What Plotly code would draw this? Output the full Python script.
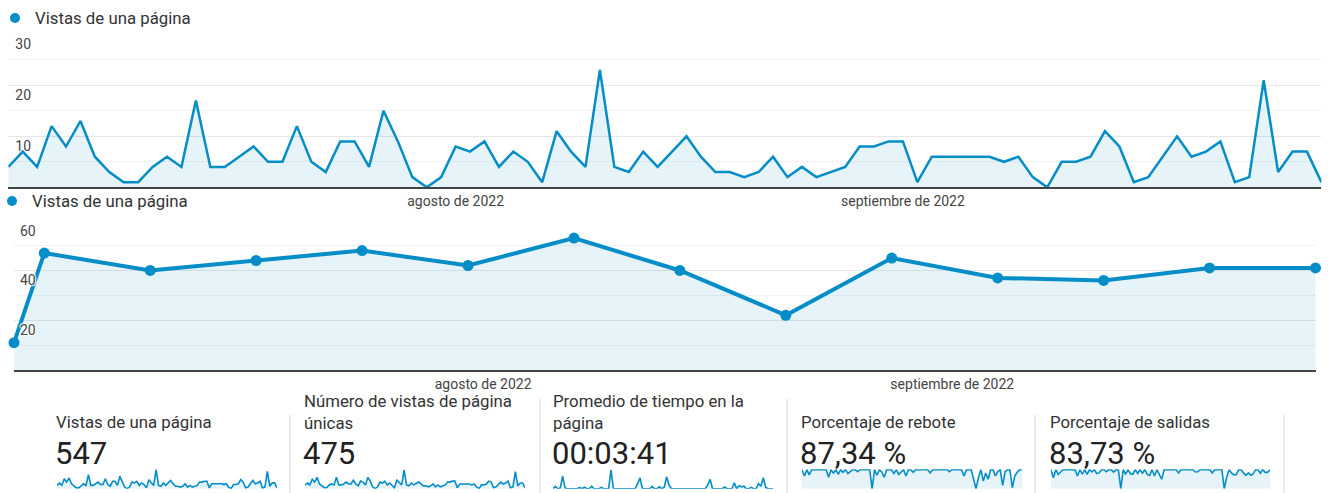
import plotly.graph_objects as go
import pandas as pd

W, H = 1330, 493

# ---------------- data ----------------
days = pd.date_range("2022-07-01", "2022-09-30", freq="D")

page_views = [4, 7, 4, 12, 8, 13, 6, 3, 1, 1, 4, 6, 4, 17, 4, 4, 6, 8, 5, 5,
              12, 5, 3, 9, 9, 4, 15, 9, 2, 0,
              2, 8, 7, 9, 4, 7, 5, 1, 11, 7, 4, 23, 4, 3, 7, 4, 7, 10, 6, 3,
              3, 2, 3, 6, 2, 4, 2, 3, 4, 8, 8, 9,
              9, 1, 6, 6, 6, 6, 6, 5, 6, 2, 0, 5, 5, 6, 11, 8, 1, 2, 6, 10,
              6, 7, 9, 1, 2, 21, 3, 7, 7, 1]

unique_views = [4, 6, 4, 10, 7, 12, 5, 3, 1, 1, 4, 5, 4, 12, 4, 4, 5, 7, 5, 5,
                9, 5, 3, 8, 7, 4, 12, 8, 2, 0,
                2, 7, 6, 8, 4, 6, 4, 1, 9, 6, 4, 20, 4, 3, 6, 4, 6, 7, 5, 3,
                3, 2, 3, 5, 2, 4, 2, 3, 4, 7, 7, 8,
                8, 1, 5, 5, 5, 5, 5, 4, 5, 2, 0, 4, 4, 5, 8, 7, 1, 2, 5, 7,
                5, 6, 8, 1, 2, 18, 3, 6, 6, 1]

avg_time_sec = [0, 190, 0, 60, 1010, 60, 0, 0, 0, 0, 0, 100, 0, 120, 0, 0, 200, 0, 0, 0,
                110, 0, 0, 0, 1500, 0, 0, 0, 0, 0,
                0, 0, 0, 0, 0, 400, 870, 0, 0, 0, 0, 190, 0, 0, 150, 0, 120, 950, 300, 0,
                0, 0, 0, 0, 0, 0, 0, 0, 0, 0, 0, 0,
                0, 0, 300, 740, 0, 0, 0, 0, 0, 136, 0, 0, 0, 465, 0, 245, 150, 200, 0, 0,
                110, 0, 0, 410, 200, 870, 100, 0, 0, 0]

bounce_rate = [100, 67, 100, 73, 100, 100, 100, 100, 100, 100, 100, 60, 100, 82, 100, 75, 100, 86, 100, 80,
               92, 100, 100, 89, 100, 100, 100, 100, 100, 0,
               100, 71, 100, 88, 60, 100, 100, 100, 80, 100, 75, 86, 100, 67, 100, 100, 86, 100, 100, 100,
               100, 100, 100, 83, 100, 100, 100, 100, 100, 100, 100, 89,
               100, 100, 100, 100, 100, 67, 100, 100, 100, 50, 0, 60, 100, 40, 82, 50, 100, 100, 67, 90,
               100, 17, 89, 100, 100, 5, 67, 86, 100, 100]

exit_rate = [100, 57, 100, 75, 88, 100, 100, 100, 100, 100, 100, 67, 100, 76, 100, 75, 100, 88, 100, 80,
             83, 100, 100, 89, 100, 100, 87, 100, 100, 0,
             100, 75, 100, 78, 75, 100, 80, 100, 82, 100, 75, 70, 100, 67, 100, 75, 50, 100, 100, 100,
             100, 100, 100, 83, 100, 100, 100, 100, 100, 100, 88, 89,
             100, 100, 100, 100, 100, 83, 100, 100, 100, 100, 0, 60, 100, 83, 73, 75, 100, 100, 83, 70,
             83, 71, 78, 100, 100, 81, 100, 86, 86, 100]

week_starts = ["2022-07-01", "2022-07-03", "2022-07-10", "2022-07-17", "2022-07-24",
               "2022-07-31", "2022-08-07", "2022-08-14", "2022-08-21", "2022-08-28",
               "2022-09-04", "2022-09-11", "2022-09-18", "2022-09-25"]
weekly_views = [11, 47, 40, 44, 48, 42, 53, 40, 22, 45, 37, 36, 41, 41]

month_ticks = ["2022-08-01", "2022-09-01"]
month_labels = ["agosto de 2022", "septiembre de 2022"]
top_y_ticks = [10, 20, 30]
bottom_y_ticks = [20, 40, 60]

series_name = "Vistas de una página"
card_titles = ["Vistas de una página",
               "Número de vistas de página<br>únicas",
               "Promedio de tiempo en la<br>página",
               "Porcentaje de rebote",
               "Porcentaje de salidas"]
card_values = ["547", "475", "00:03:41", "87,34 %", "83,73 %"]

# ---------------- style ----------------
BLUE = "#058DC7"
FILL = "rgba(5,141,199,0.10)"
FONT = "Roboto, Arial, sans-serif"
GRID = "#e6e6e6"
GRID_MINOR = "#f2f2f2"
TICKFONT = dict(size=14, color="#444", family=FONT)


def px(x):
    return x / W


def py(y):
    return 1 - y / H


fig = go.Figure()

# top daily chart
fig.add_trace(go.Scatter(x=days, y=page_views, mode="lines", line=dict(color=BLUE, width=2.5),
                         fill="tozeroy", fillcolor=FILL, xaxis="x", yaxis="y",
                         cliponaxis=False, hoverinfo="skip"))
# weekly chart
fig.add_trace(go.Scatter(x=week_starts, y=weekly_views, mode="lines+markers",
                         line=dict(color=BLUE, width=4), marker=dict(color=BLUE, size=11),
                         fill="tozeroy", fillcolor=FILL, xaxis="x2", yaxis="y2",
                         cliponaxis=False, hoverinfo="skip"))

spark_series = [page_views, unique_views, avg_time_sec, bounce_rate, exit_rate]
spark_x = [(57, 277), (305, 525), (553, 773), (802, 1022), (1051, 1270)]
spark_max = [23.5, 20.5, 1550, 102, 102]
for k, ser in enumerate(spark_series):
    n = k + 3
    fig.add_trace(go.Scatter(x=days, y=ser, mode="lines", line=dict(color=BLUE, width=1.6),
                             fill="tozeroy", fillcolor=FILL, xaxis=f"x{n}", yaxis=f"y{n}",
                             cliponaxis=False, hoverinfo="skip"))

layout = dict(
    width=W, height=H, autosize=False,
    margin=dict(l=0, r=0, t=0, b=0, pad=0, autoexpand=False),
    paper_bgcolor="white", plot_bgcolor="rgba(0,0,0,0)", showlegend=False,
    font=dict(family=FONT, color="#333"),
    xaxis=dict(domain=[px(8.3), px(1321.4)], range=[days[0], days[-1]], showgrid=False,
               showline=True, linecolor="#444", linewidth=1.5, zeroline=False,
               tickvals=month_ticks, ticktext=month_labels, ticks="",
               tickfont=TICKFONT, automargin=False, anchor="y"),
    yaxis=dict(domain=[py(187.3), py(34.3)], range=[0, 30], tickvals=top_y_ticks,
               showgrid=True, gridcolor=GRID, zeroline=False, showline=False,
               minor=dict(tickvals=[5, 15, 25], showgrid=True, gridcolor=GRID_MINOR),
               ticklabelposition="inside", ticklabelshift=10, ticklabelstandoff=4,
               ticklabeloverflow="allow", tickfont=TICKFONT, automargin=False, anchor="x"),
    xaxis2=dict(domain=[px(14), px(1315.5)], range=[week_starts[0], week_starts[-1]],
                showgrid=False, showline=True, linecolor="#444", linewidth=1.5, zeroline=False,
                tickvals=month_ticks, ticktext=month_labels, ticks="",
                tickfont=TICKFONT, automargin=False, anchor="y2"),
    yaxis2=dict(domain=[py(370), py(220.7)], range=[0, 60], tickvals=bottom_y_ticks,
                showgrid=True, gridcolor=GRID, zeroline=False, showline=False,
                minor=dict(tickvals=[10, 30, 50], showgrid=True, gridcolor=GRID_MINOR),
                ticklabelposition="inside", ticklabelshift=10, ticklabelstandoff=3,
                ticklabeloverflow="allow",
                tickfont=dict(size=14, color="#444", family=FONT, shadow="auto"),
                layer="above traces", automargin=False, anchor="x2"),
)
for k in range(5):
    n = k + 3
    x0, x1 = spark_x[k]
    layout[f"xaxis{n}"] = dict(domain=[px(x0), px(x1)], range=[days[0], days[-1]],
                               visible=False, automargin=False, anchor=f"y{n}")
    layout[f"yaxis{n}"] = dict(domain=[py(488.7), py(469.3)], range=[0, spark_max[k]],
                               visible=False, automargin=False, anchor=f"x{n}")
fig.update_layout(**layout)

shapes = []
annotations = []
# legends
for (cx, cy, tx) in [(15, 18, 33), (12, 201, 30)]:
    shapes.append(dict(type="circle", xref="paper", yref="paper", xsizemode="pixel",
                       ysizemode="pixel", xanchor=px(cx), yanchor=py(cy),
                       x0=-5, x1=5, y0=-5, y1=5, fillcolor=BLUE, line=dict(width=0)))
    annotations.append(dict(text=series_name, xref="paper", yref="paper", x=px(tx), y=py(cy),
                            xanchor="left", yanchor="middle", showarrow=False,
                            font=dict(size=16.8, color="#333", family=FONT)))

# scorecards
card_left = [55, 303, 552, 800, 1049]
for k in range(5):
    two_line = "<br>" in card_titles[k]
    annotations.append(dict(text=card_titles[k], xref="paper", yref="paper", x=px(card_left[k]),
                            y=py(412 if two_line else 422), xanchor="left", yanchor="middle",
                            align="left", showarrow=False, borderpad=0,
                            font=dict(size=16.8, color="#333", family=FONT)))
    annotations.append(dict(text=card_values[k], xref="paper", yref="paper",
                            x=px(card_left[k] - 1), y=py(453), xanchor="left", yanchor="middle",
                            showarrow=False, borderpad=0,
                            font=dict(size=31, color="#222", family=FONT)))

for (dx, top) in [(290, 415), (540, 399), (787, 399), (1035, 415), (1284, 415)]:
    shapes.append(dict(type="line", xref="paper", yref="paper", x0=px(dx), x1=px(dx),
                       y0=py(top), y1=py(493), line=dict(color="#d6d6d6", width=1)))

fig.update_layout(shapes=shapes, annotations=annotations)
fig.write_html("out.html", config={"displayModeBar": False, "responsive": False},
               post_script="document.body.style.margin='0';document.body.style.overflow='hidden';")
